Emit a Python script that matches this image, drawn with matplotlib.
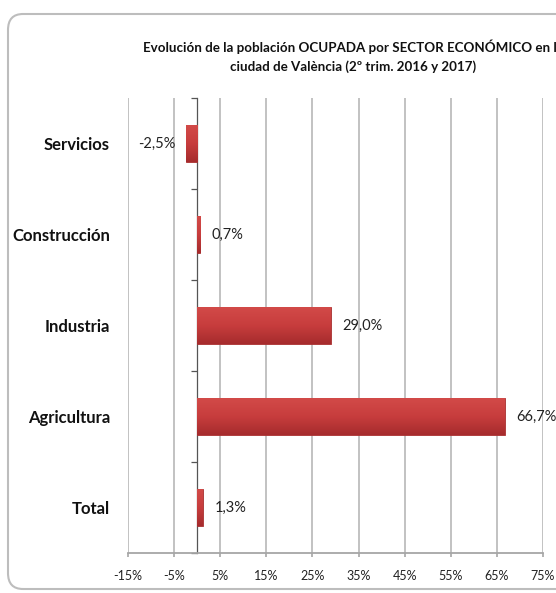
import matplotlib
matplotlib.use("Agg")
import matplotlib.pyplot as plt
import numpy as np
from matplotlib.patches import FancyBboxPatch
from matplotlib.colors import LinearSegmentedColormap

categories = ["Servicios", "Construcción", "Industria", "Agricultura", "Total"]
values = [-2.5, 0.7, 29.0, 66.7, 1.3]
value_labels = ["-2,5%", "0,7%", "29,0%", "66,7%", "1,3%"]
xticks = [-15, -5, 5, 15, 25, 35, 45, 55, 65, 75]
xtick_labels = ["-15%", "-5%", "5%", "15%", "25%", "35%", "45%", "55%", "65%", "75%"]
title = ("Evolución de la población OCUPADA por SECTOR ECONÓMICO en la\n"
         "ciudad de València (2º trim. 2016 y 2017)")

plt.rcParams['font.family'] = ['Lato', 'DejaVu Sans']

W, H = 556, 593
fig = plt.figure(figsize=(W / 100, H / 100), dpi=100)
fig.patch.set_facecolor("white")

# rounded border
border = FancyBboxPatch((8 / W, (H - 589) / H), 600 / W, (589 - 14) / H,
                        boxstyle="round,pad=0,rounding_size=0.027",
                        transform=fig.transFigure, fill=False,
                        edgecolor="#BDBDBD", linewidth=1.5, zorder=0)
fig.patches.append(border)

left, right = 128 / W, 543 / W
top, bottom = 98 / H, 553 / H
ax = fig.add_axes([left, 1 - bottom, right - left, bottom - top])

y = np.arange(len(categories))
bars = ax.barh(y, values, height=0.40, color="#C23B3B", edgecolor="#A83030",
               linewidth=0.6, zorder=3)

# vertical gradient inside each bar
grad = np.linspace(0, 1, 64).reshape(-1, 1)
cmap = LinearSegmentedColormap.from_list("g", ["#D24A48", "#C73D3D", "#A62B2D"])
for b in bars:
    x0, yb = b.get_x(), b.get_y()
    w, h = b.get_width(), b.get_height()
    im = ax.imshow(grad, extent=[x0, x0 + w, yb + h, yb], aspect="auto",
                   cmap=cmap, zorder=3.5, origin="upper")
    im.set_clip_path(b)

ax.set_xlim(-15, 75)
ax.set_ylim(len(categories) - 0.5, -0.5)
ax.set_xticks(xticks)
ax.set_xticklabels(xtick_labels, fontsize=9, color="#222222")
ax.tick_params(axis="x", length=3, width=1.2, color="#A6A6A6", pad=9)
ax.grid(axis="x", color="#BDBDBD", linewidth=1.3, zorder=0)
ax.set_axisbelow(True)

ax.set_yticks(y)
ax.set_yticklabels(categories, fontsize=12, fontweight="bold", color="#111111")
ax.tick_params(axis="y", length=0, pad=13)

for s in ["left", "top", "right"]:
    ax.spines[s].set_visible(False)
ax.spines["bottom"].set_color("#A6A6A6")
ax.spines["bottom"].set_linewidth(1.3)

# category axis at zero
sec = ax.secondary_yaxis(15 / 90)
sec.spines["left"].set_color("#555555")
sec.spines["left"].set_linewidth(0.9)
sec.set_yticks(np.arange(-0.5, len(categories), 1.0))
sec.set_yticklabels([])
sec.tick_params(axis="y", length=4, width=0.9, color="#555555", direction="out")

for b, v, lab in zip(bars, values, value_labels):
    yc = b.get_y() + b.get_height() / 2
    if v >= 0:
        ax.annotate(lab, (v, yc), xytext=(8, 0), textcoords="offset points",
                    ha="left", va="center", fontsize=10.5, color="#222222")
    else:
        ax.annotate(lab, (v, yc), xytext=(-7, 0), textcoords="offset points",
                    ha="right", va="center", fontsize=10.5, color="#222222")

fig.text(353 / W, 1 - 56 / H, title, ha="center", va="center", fontsize=9.6,
         fontweight="bold", linespacing=1.6, color="#111111")

fig.savefig("out.png", dpi=100)
